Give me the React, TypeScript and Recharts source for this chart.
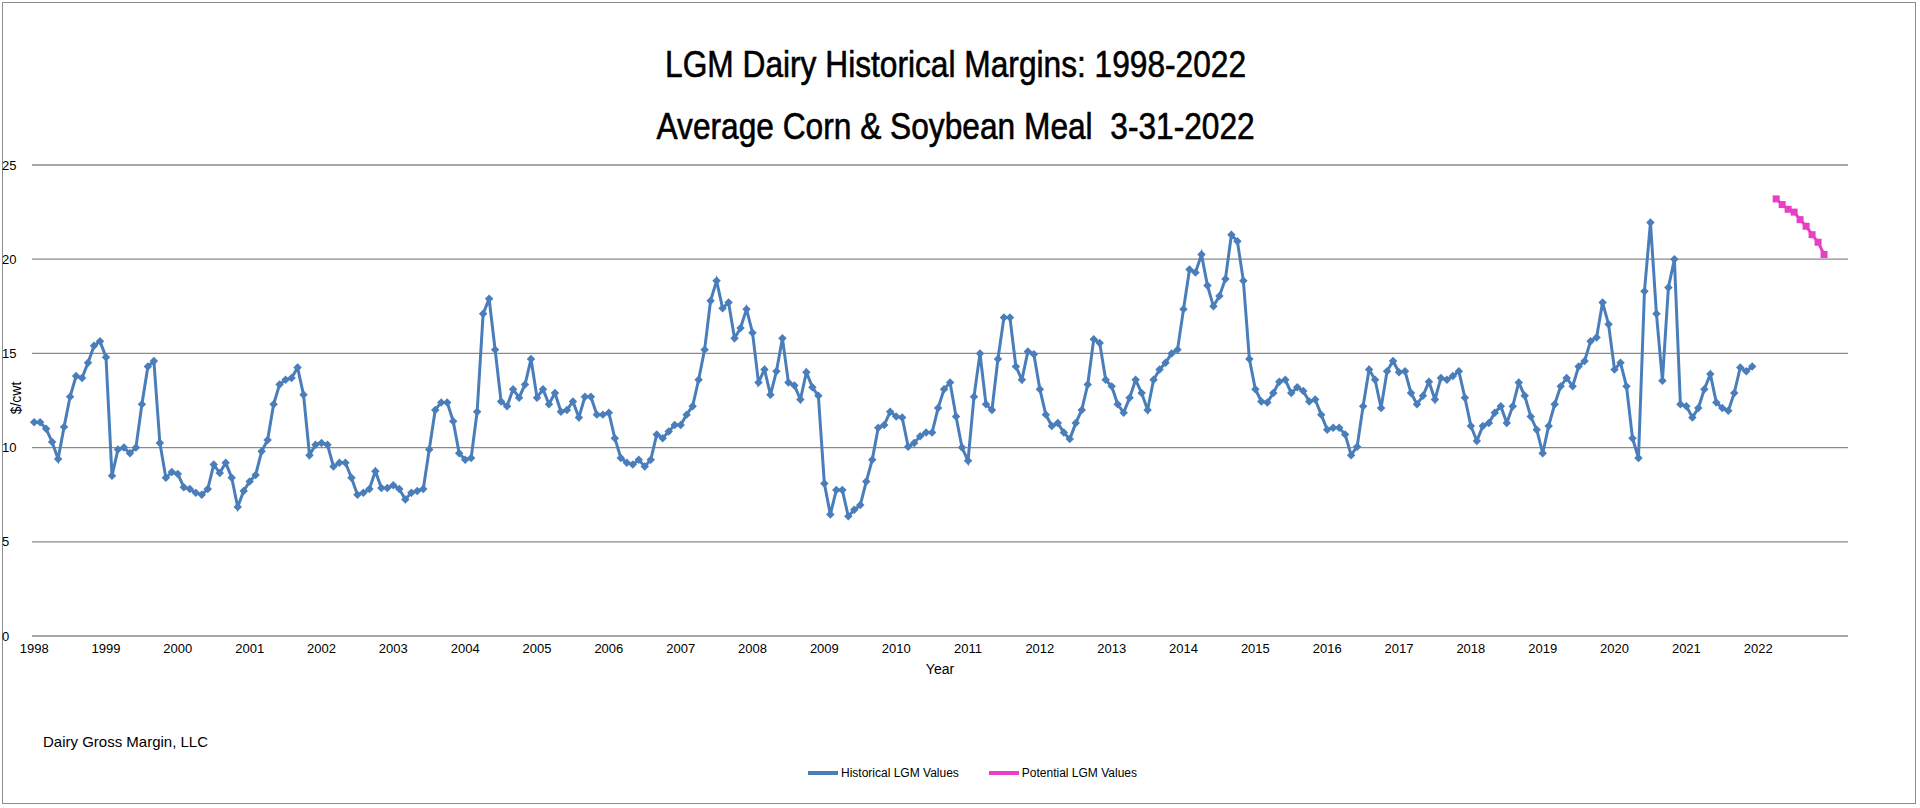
import React from 'react';
import { LineChart, Line, XAxis, YAxis, CartesianGrid, Label } from 'recharts';

// Monthly LGM margins, Jan 1998 .. Dec 2021 ($/cwt)
const historical = [
  11.35, 11.35, 11.0, 10.3, 9.4, 11.1, 12.7, 13.8, 13.7, 14.5, 15.4, 15.65,
  14.8, 8.5, 9.9, 10.0, 9.7, 10.0, 12.3, 14.3, 14.6, 10.25, 8.4, 8.7,
  8.6, 7.9, 7.8, 7.6, 7.5, 7.8, 9.1, 8.65, 9.2, 8.4, 6.85, 7.7,
  8.2, 8.55, 9.8, 10.4, 12.3, 13.35, 13.6, 13.7, 14.25, 12.8, 9.6, 10.15,
  10.25, 10.15, 9.0, 9.2, 9.2, 8.4, 7.5, 7.6, 7.8, 8.75, 7.85, 7.85,
  8.0, 7.8, 7.25, 7.6, 7.7, 7.8, 9.9, 12.0, 12.4, 12.4, 11.4, 9.7,
  9.35, 9.45, 11.9, 17.1, 17.9, 15.2, 12.45, 12.2, 13.1, 12.65, 13.35, 14.7,
  12.65, 13.1, 12.3, 12.9, 11.9, 12.0, 12.45, 11.6, 12.7, 12.7, 11.75, 11.75,
  11.85, 10.5, 9.45, 9.2, 9.1, 9.35, 9.0, 9.35, 10.7, 10.5, 10.85, 11.2,
  11.2, 11.75, 12.2, 13.6, 15.2, 17.8, 18.85, 17.4, 17.7, 15.8, 16.35, 17.35,
  16.1, 13.45, 14.15, 12.8, 14.05, 15.8, 13.45, 13.3, 12.55, 14.0, 13.2, 12.75,
  8.1, 6.45, 7.75, 7.75, 6.35, 6.7, 6.95, 8.2, 9.35, 11.05, 11.2, 11.9,
  11.65, 11.6, 10.05, 10.25, 10.6, 10.8, 10.8, 12.1, 13.1, 13.45, 11.65, 10.0,
  9.3, 12.7, 15.0, 12.3, 12.0, 14.7, 16.9, 16.9, 14.3, 13.6, 15.1, 14.95,
  13.1, 11.75, 11.15, 11.3, 10.8, 10.45, 11.3, 12.0, 13.35, 15.75, 15.55, 13.6,
  13.25, 12.3, 11.85, 12.65, 13.6, 12.9, 12.0, 13.6, 14.15, 14.5, 15.0, 15.2,
  17.35, 19.45, 19.3, 20.25, 18.6, 17.5, 18.05, 18.95, 21.3, 20.95, 18.85, 14.7,
  13.1, 12.45, 12.4, 12.9, 13.5, 13.6, 12.9, 13.2, 13.0, 12.45, 12.55, 11.75,
  10.95, 11.05, 11.05, 10.7, 9.6, 10.05, 12.2, 14.15, 13.6, 12.1, 14.05, 14.6,
  14.0, 14.05, 12.9, 12.3, 12.75, 13.5, 12.55, 13.7, 13.6, 13.8, 14.05, 12.65,
  11.15, 10.35, 11.15, 11.3, 11.85, 12.2, 11.3, 12.2, 13.45, 12.75, 11.65, 10.95,
  9.7, 11.15, 12.3, 13.25, 13.7, 13.25, 14.3, 14.6, 15.65, 15.85, 17.7, 16.55,
  14.15, 14.5, 13.25, 10.5, 9.45, 18.3, 21.95, 17.1, 13.55, 18.5, 20.0, 12.3,
  12.2, 11.6, 12.1, 13.1, 13.9, 12.4, 12.1, 11.95, 12.9, 14.25, 14.05, 14.3,
];

// Potential values, Apr 2022 .. Dec 2022
const potential = [23.2, 22.9, 22.65, 22.5, 22.1, 21.75, 21.3, 20.9, 20.25];

const yearTicks = Array.from({ length: 25 }, (_, i) => 1998 + i);
const yTicks = [0, 5, 10, 15, 20, 25];

const histData = historical.map((v, i) => ({ x: 1998 + i / 12, v }));
const potData = potential.map((v, i) => ({ x: 2022 + (3 + i) / 12, v }));

const FONT = "'Liberation Sans Narrow', 'Liberation Sans', Arial, sans-serif";

const Diamond = (props: any) => {
  const { cx, cy } = props;
  if (cx == null || cy == null) return null;
  return <rect x={cx - 3} y={cy - 3} width={6} height={6} fill="#4a7ebb" transform={`rotate(45 ${cx} ${cy})`} />;
};

const Square = (props: any) => {
  const { cx, cy } = props;
  if (cx == null || cy == null) return null;
  return <rect x={cx - 3.5} y={cy - 3.5} width={7} height={7} fill="#e83fc6" />;
};

export default function App() {
  return (
    <div style={{ position: 'absolute', left: 0, top: 0, width: 1920, height: 808, background: '#fff', fontFamily: FONT }}>
      <div style={{ position: 'absolute', left: 2, top: 2, width: 1912, height: 800, border: '1px solid #8c8c8c' }} />
      <div style={{ position: 'absolute', top: 34, left: 0, width: 1920, textAlign: 'center', fontSize: 36, lineHeight: '62px', color: '#000', transform: 'scaleX(0.88)', WebkitTextStroke: '0.6px #000' }}>
        <div style={{ marginLeft: -10 }}>LGM Dairy Historical Margins: 1998-2022</div>
        <div style={{ marginLeft: -10 }}>Average Corn &amp; Soybean Meal&nbsp; 3-31-2022</div>
      </div>
      <div style={{ position: 'absolute', left: 0, top: 0 }}>
        <LineChart width={1920} height={808} margin={{ top: 165, right: 72, bottom: 142, left: 0 }}>
          <CartesianGrid vertical={false} stroke="#8a8a8a" strokeWidth={1.3} />
          <XAxis
            type="number"
            dataKey="x"
            domain={[1997.97, 2023.25]}
            ticks={yearTicks}
            interval={0}
            allowDuplicatedCategory={false}
            axisLine={false}
            tickLine={false}
            height={30}
            tick={{ fontSize: 13, fill: '#000', fontFamily: FONT }}
          >
            <Label value="Year" position="bottom" offset={-2} style={{ fontSize: 14, fill: '#000', fontFamily: FONT }} />
          </XAxis>
          <YAxis
            type="number"
            domain={[0, 25]}
            ticks={yTicks}
            interval={0}
            axisLine={false}
            tickLine={false}
            width={32}
            tick={{ fontSize: 13, fill: '#000', fontFamily: FONT, textAnchor: 'start', dx: -22 }}
          />
          <Line data={histData} dataKey="v" stroke="#4a7ebb" strokeWidth={3} dot={<Diamond />} isAnimationActive={false} />
          <Line data={potData} dataKey="v" stroke="#e83fc6" strokeWidth={3} dot={<Square />} isAnimationActive={false} />
        </LineChart>
      </div>
      <div style={{ position: 'absolute', left: 4, top: 380, width: 40, height: 40 }}>
        <div style={{ transform: 'rotate(-90deg)', fontSize: 14, position: 'absolute', left: -4, top: 10 }}>$/cwt</div>
      </div>
      <div style={{ position: 'absolute', left: 43, top: 733, fontSize: 15 }}>Dairy Gross Margin, LLC</div>
      <div style={{ position: 'absolute', left: 808, top: 766, fontSize: 12, display: 'flex', alignItems: 'center' }}>
        <span style={{ display: 'inline-block', width: 30, height: 4, background: '#4a7ebb', marginRight: 3 }} />
        <span>Historical LGM Values</span>
        <span style={{ display: 'inline-block', width: 30, height: 4, background: '#e83fc6', marginLeft: 30, marginRight: 3 }} />
        <span>Potential LGM Values</span>
      </div>
    </div>
  );
}
